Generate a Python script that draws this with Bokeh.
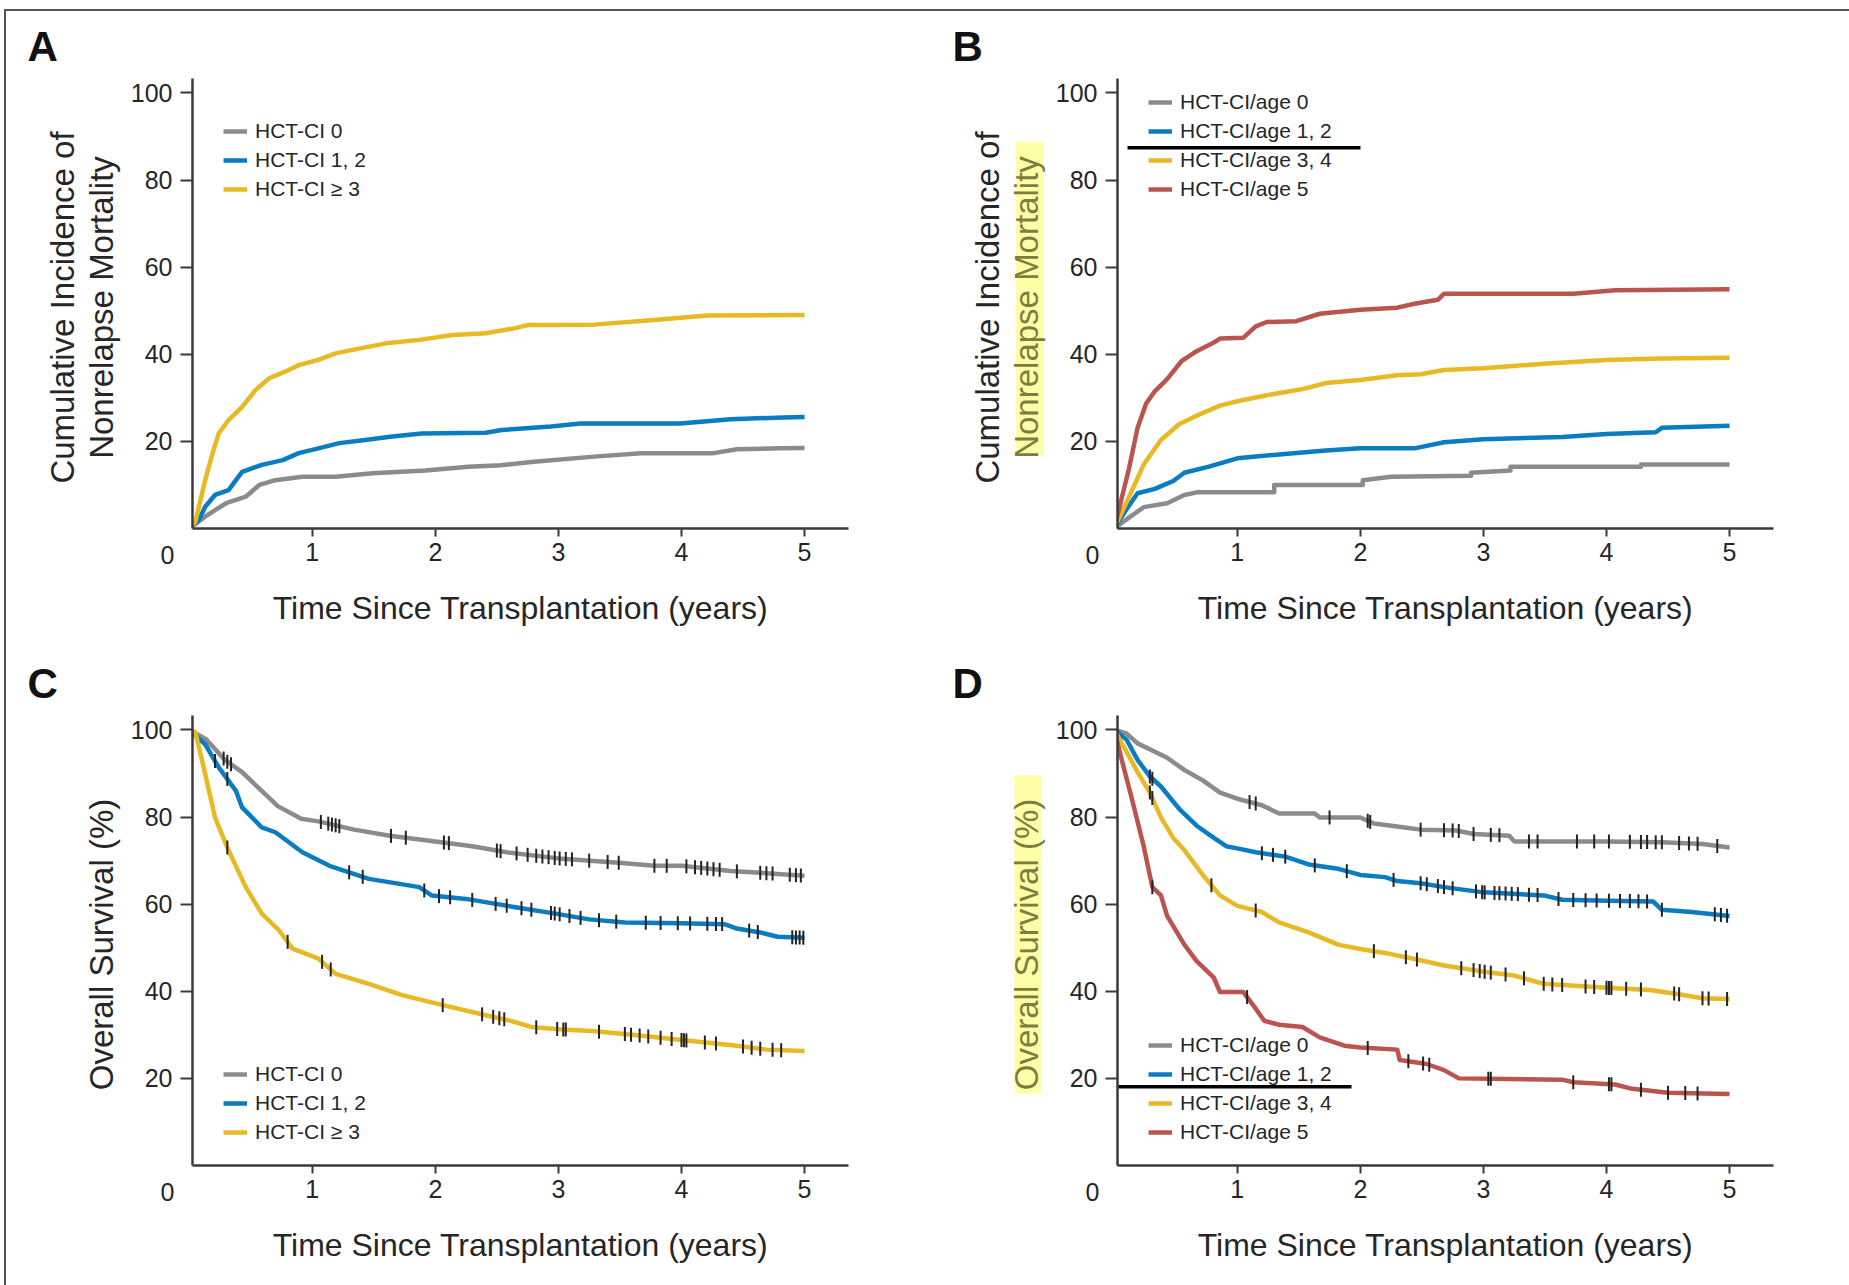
import numpy as np
from bokeh.plotting import figure
from bokeh.models import Label, BoxAnnotation, Legend, LegendItem, FixedTicker, Range1d, Div, Spacer
from bokeh.layouts import column, row
from bokeh.embed import file_html
from bokeh.resources import INLINE

# ---------------- data ----------------
names_cci = ["HCT-CI 0", "HCT-CI 1, 2", "HCT-CI \u2265 3"]
names_age = ["HCT-CI/age 0", "HCT-CI/age 1, 2", "HCT-CI/age 3, 4", "HCT-CI/age 5"]
x_ticks = [1, 2, 3, 4, 5]
y_ticks = [20, 40, 60, 80, 100]

# Panel A: cumulative incidence of NRM by HCT-CI
a_t0 = [0, 0.13, 0.21, 0.3, 0.46, 0.57, 0.7, 0.92, 1.19, 1.49, 1.92, 2.27, 2.53, 2.8, 3.29, 3.67, 4.26, 4.45, 4.8, 5.0]
a_v0 = [0, 2.7, 4.2, 5.8, 7.3, 10.0, 11.1, 11.9, 11.9, 12.7, 13.3, 14.2, 14.5, 15.3, 16.5, 17.3, 17.3, 18.2, 18.4, 18.5]
a_t1 = [0, 0.08, 0.13, 0.21, 0.32, 0.38, 0.43, 0.59, 0.76, 0.89, 1.05, 1.22, 1.43, 1.65, 1.89, 2.41, 2.54, 2.94, 3.18, 3.99, 4.4, 4.83, 5.0]
a_v1 = [0, 2.0, 5.0, 7.7, 8.8, 11.1, 13.0, 14.6, 15.7, 17.3, 18.4, 19.6, 20.3, 21.1, 21.8, 22.0, 22.6, 23.4, 24.1, 24.1, 25.1, 25.5, 25.6]
a_t2 = [0, 0.05, 0.13, 0.19, 0.24, 0.32, 0.43, 0.54, 0.65, 0.78, 0.89, 1.05, 1.19, 1.38, 1.6, 1.87, 2.14, 2.41, 2.65, 2.75, 3.29, 3.75, 4.21, 5.0]
a_v2 = [0, 1.5, 11.1, 17.3, 21.8, 24.9, 27.9, 31.8, 34.5, 36.0, 37.5, 38.7, 40.2, 41.3, 42.5, 43.3, 44.4, 44.8, 46.0, 46.7, 46.8, 47.8, 48.9, 49.0]

# Panel B: cumulative incidence of NRM by HCT-CI/age
b_t0 = [0, 0.12, 0.24, 0.43, 0.57, 0.67, 1.3, 1.3, 2.02, 2.02, 2.25, 2.9, 2.9, 3.22, 3.22, 4.28, 4.28, 5.0]
b_v0 = [0, 2.5, 4.9, 5.8, 7.7, 8.3, 8.3, 10.0, 10.0, 11.1, 11.9, 12.1, 12.8, 13.3, 14.2, 14.2, 14.7, 14.7]
b_t1 = [0, 0.1, 0.19, 0.33, 0.48, 0.57, 0.77, 1.0, 1.34, 1.72, 2.0, 2.44, 2.68, 3.0, 3.64, 4.0, 4.4, 4.45, 5.0]
b_v1 = [0, 4.4, 8.1, 9.1, 10.9, 12.8, 14.2, 16.1, 17.0, 17.9, 18.4, 18.4, 19.8, 20.5, 21.0, 21.7, 22.1, 23.1, 23.6]
b_t2 = [0, 0.12, 0.24, 0.38, 0.53, 0.67, 0.86, 1.0, 1.24, 1.53, 1.72, 2.0, 2.3, 2.49, 2.68, 3.0, 3.49, 4.0, 4.45, 5.0]
b_v2 = [0, 7.2, 14.7, 20.3, 24.0, 25.9, 28.2, 29.2, 30.6, 32.0, 33.4, 34.1, 35.2, 35.4, 36.4, 36.8, 37.8, 38.7, 39.0, 39.2]
b_t3 = [0, 0.12, 0.19, 0.26, 0.33, 0.43, 0.55, 0.67, 0.81, 0.86, 1.05, 1.15, 1.24, 1.48, 1.67, 2.0, 2.3, 2.44, 2.63, 2.68, 3.73, 4.07, 5.0]
b_v3 = [0, 13.7, 23.1, 28.7, 31.5, 34.3, 38.5, 40.7, 42.7, 43.6, 43.8, 46.4, 47.4, 47.6, 49.3, 50.2, 50.7, 51.6, 52.5, 53.9, 53.9, 54.7, 54.9]

# Panel C: overall survival by HCT-CI
c_t0 = [0, 0.14, 0.29, 0.43, 0.57, 0.72, 0.91, 1.05, 1.34, 1.63, 2.0, 2.3, 2.58, 3.0, 3.49, 3.78, 4.0, 4.4, 4.64, 5.0]
c_v0 = [100, 97.8, 93.1, 90.3, 86.5, 82.5, 79.6, 79.0, 77.1, 75.7, 74.4, 73.3, 71.9, 70.5, 69.5, 68.8, 68.8, 67.6, 67.2, 66.5]
c_t1 = [0, 0.13, 0.24, 0.38, 0.43, 0.59, 0.7, 0.92, 1.14, 1.46, 1.87, 1.97, 2.25, 2.65, 3.0, 3.25, 3.54, 4.0, 4.35, 4.45, 4.64, 4.78, 5.0]
c_v1 = [100, 96.7, 91.4, 86.0, 82.2, 77.6, 76.5, 71.9, 68.8, 65.8, 63.9, 62.0, 61.2, 59.3, 57.7, 56.5, 55.8, 55.6, 55.4, 54.4, 53.5, 52.5, 52.3]
c_t2 = [0, 0.05, 0.13, 0.21, 0.32, 0.46, 0.59, 0.73, 0.84, 1.05, 1.19, 1.46, 1.73, 2.06, 2.41, 2.6, 2.78, 3.0, 3.3, 3.64, 4.0, 4.45, 4.69, 5.0]
c_v2 = [100, 99.5, 89.9, 79.9, 72.3, 63.9, 57.8, 54.0, 49.8, 47.5, 44.0, 41.7, 39.1, 36.8, 34.5, 33.3, 31.8, 31.3, 30.8, 29.9, 28.8, 27.5, 26.6, 26.3]
c_cens0 = [0.28, 0.31, 0.34, 1.07, 1.13, 1.16, 1.19, 1.22, 1.64, 1.76, 2.07, 2.11, 2.5, 2.53, 2.66, 2.75, 2.82, 2.87, 2.92, 2.97, 3.01, 3.06, 3.11, 3.25, 3.4, 3.49, 3.78, 3.88, 4.04, 4.11, 4.16, 4.21, 4.26, 4.31, 4.45, 4.64, 4.69, 4.74, 4.88, 4.93, 4.97]
c_cens1 = [0.21, 0.31, 1.3, 1.41, 1.91, 2.03, 2.12, 2.3, 2.49, 2.58, 2.7, 2.78, 2.94, 2.97, 3.01, 3.09, 3.18, 3.33, 3.47, 3.71, 3.83, 3.97, 4.07, 4.21, 4.28, 4.33, 4.55, 4.62, 4.9, 4.93, 4.96, 4.99]
c_cens2 = [0.31, 0.8, 1.08, 1.15, 2.06, 2.38, 2.47, 2.52, 2.56, 2.82, 2.99, 3.04, 3.06, 3.33, 3.54, 3.59, 3.66, 3.73, 3.83, 3.92, 4.0, 4.02, 4.04, 4.19, 4.28, 4.5, 4.57, 4.64, 4.74, 4.81]

# Panel D: overall survival by HCT-CI/age
d_t0 = [0, 0.1, 0.19, 0.33, 0.43, 0.57, 0.72, 0.86, 1.0, 1.2, 1.34, 1.63, 1.67, 2.0, 2.11, 2.3, 2.49, 2.78, 2.92, 3.21, 3.25, 4.0, 4.45, 4.78, 5.0]
d_v0 = [100, 99.2, 96.9, 95.0, 93.6, 90.8, 88.4, 85.6, 84.2, 82.7, 80.8, 80.8, 79.9, 79.9, 78.5, 77.8, 77.1, 76.9, 76.1, 75.7, 74.4, 74.4, 74.2, 73.8, 73.0]
d_t1 = [0, 0.1, 0.19, 0.29, 0.38, 0.53, 0.67, 0.81, 0.91, 1.0, 1.15, 1.39, 1.58, 1.82, 2.0, 2.2, 2.3, 2.49, 2.68, 3.0, 3.49, 3.64, 4.0, 4.38, 4.45, 4.69, 5.0]
d_v1 = [100, 97.8, 93.1, 89.3, 87.0, 81.8, 78.0, 75.2, 73.3, 72.8, 71.9, 70.9, 69.1, 68.1, 66.7, 66.2, 65.3, 64.8, 63.9, 62.7, 62.0, 61.0, 60.8, 60.6, 58.7, 58.2, 57.3]
d_t2 = [0, 0.1, 0.19, 0.29, 0.38, 0.48, 0.57, 0.72, 0.86, 1.0, 1.2, 1.34, 1.58, 1.82, 2.0, 2.2, 2.44, 2.68, 3.0, 3.25, 3.49, 4.0, 4.35, 4.59, 4.78, 5.0]
d_v2 = [100, 95.0, 90.3, 85.6, 79.9, 75.2, 72.4, 66.7, 62.0, 59.6, 58.2, 55.8, 53.5, 50.7, 49.7, 48.8, 47.4, 45.9, 44.5, 43.6, 41.7, 40.8, 40.3, 39.3, 38.4, 38.2]
d_t3 = [0, 0.07, 0.14, 0.24, 0.31, 0.38, 0.43, 0.57, 0.67, 0.81, 0.86, 1.05, 1.15, 1.22, 1.34, 1.53, 1.67, 1.87, 2.0, 2.3, 2.32, 2.54, 2.68, 2.8, 3.64, 3.73, 4.07, 4.21, 4.5, 5.0]
d_v3 = [100, 92.2, 84.6, 73.3, 63.9, 62.0, 57.3, 50.7, 46.9, 43.1, 39.8, 39.8, 36.0, 33.2, 32.3, 31.8, 29.4, 27.5, 27.1, 26.6, 24.2, 23.3, 21.9, 20.0, 19.7, 19.1, 18.6, 17.6, 16.7, 16.4]
d_cens0 = [1.1, 1.15, 1.75, 2.06, 2.08, 2.49, 2.68, 2.75, 2.8, 2.92, 3.06, 3.13, 3.37, 3.44, 3.76, 3.9, 4.02, 4.19, 4.28, 4.33, 4.4, 4.45, 4.59, 4.67, 4.74, 4.9]
d_cens1 = [0.29, 0.31, 1.2, 1.29, 1.39, 1.63, 1.89, 2.27, 2.49, 2.54, 2.63, 2.68, 2.75, 2.94, 2.99, 3.01, 3.09, 3.13, 3.18, 3.23, 3.28, 3.37, 3.44, 3.61, 3.73, 3.83, 3.92, 4.02, 4.11, 4.19, 4.26, 4.33, 4.45, 4.88, 4.93, 4.98]
d_cens2 = [0.29, 0.31, 0.79, 1.15, 2.11, 2.37, 2.46, 2.82, 2.92, 2.97, 3.01, 3.06, 3.18, 3.33, 3.49, 3.56, 3.64, 3.83, 3.9, 4.0, 4.02, 4.04, 4.16, 4.28, 4.55, 4.59, 4.78, 4.83, 4.98]
d_cens3 = [0.31, 1.08, 2.06, 2.39, 2.51, 2.56, 3.04, 3.06, 3.73, 4.02, 4.04, 4.28, 4.5, 4.64, 4.74]

# ---------------- styling / geometry ----------------
FONT = "Liberation Sans"
TXT = "#262626"
AX = "#3a3a3a"
HL = "#ffffa8"
COLORS = ["#8b8b8d", "#0a7cc1", "#e7b924", "#b9544f"]
X0, X1 = 0.027, 5.357
Y0, Y1 = 0.0, 103.3
FW, FH = 656, 450
NB = "\u00a0"


def xd(px):
    """pixels right of the frame's left edge -> data x"""
    return X0 + px * (X1 - X0) / FW


def yd(px):
    """pixels above the frame's bottom edge -> data y"""
    return Y0 + px * (Y1 - Y0) / FH


def make_panel(letter, width, height, left_b, top_b, curves, censors, names, ylines,
               legend_y, underline=None, highlight=None):
    p = figure(width=width, height=height, x_range=Range1d(X0, X1), y_range=Range1d(Y0, Y1),
               output_backend="svg", toolbar_location=None,
               min_border_left=left_b, min_border_right=width - left_b - FW,
               min_border_top=top_b, min_border_bottom=height - top_b - FH)
    p.background_fill_color = "white"
    p.border_fill_color = "white"
    p.outline_line_color = None
    p.grid.visible = False

    p.xaxis.ticker = FixedTicker(ticks=x_ticks)
    p.yaxis.ticker = FixedTicker(ticks=y_ticks)
    for ax in (p.xaxis[0], p.yaxis[0]):
        ax.axis_line_color = AX
        ax.axis_line_width = 2.5
        ax.major_tick_line_color = AX
        ax.major_tick_line_width = 2
        ax.major_tick_in = 0
        ax.minor_tick_line_color = None
        ax.major_label_text_font = FONT
        ax.major_label_text_font_size = "25px"
        ax.major_label_text_color = TXT
    p.xaxis.major_tick_out = 8
    p.xaxis.major_label_standoff = 6
    p.yaxis.major_tick_out = 12
    p.yaxis.major_label_standoff = 8

    items = []
    for i, (t, v) in enumerate(curves):
        r = p.line(t, v, line_color=COLORS[i], line_width=4.5, line_join="round")
        items.append(LegendItem(label=names[i], renderers=[r]))
    if censors:
        for i, ct in enumerate(censors):
            t, v = curves[i]
            cy = np.interp(ct, t, v)
            p.scatter(ct, cy, marker="dash", angle=np.pi / 2, size=14,
                      line_color="#222222", line_width=2)

    leg = Legend(items=items, location=(31, legend_y), padding=0, margin=0,
                 spacing=5, glyph_width=24, glyph_height=24, label_height=24,
                 label_standoff=8, border_line_alpha=0, background_fill_alpha=0,
                 label_text_font=FONT, label_text_font_size="21px", label_text_color=TXT)
    p.add_layout(leg)

    # panel letter
    p.add_layout(Label(x=xd(-165), y=yd(482), text=letter, text_font=FONT,
                       text_font_size="42px", text_font_style="bold", text_color="#111111",
                       text_align="left", text_baseline="middle"), "above")
    # corner zero
    p.add_layout(Label(x=xd(-25), y=yd(-26.5), text="0", text_font=FONT,
                       text_font_size="25px", text_color=TXT,
                       text_align="center", text_baseline="middle"), "left")
    # x title
    p.add_layout(Label(x=xd(FW / 2), y=yd(-79.5), text="Time Since Transplantation (years)",
                       text_font=FONT, text_font_size="32px", text_color=TXT,
                       text_align="center", text_baseline="middle"), "below")
    # highlighter mark behind the last y-title line (its own text painted in the mark's colour)
    if highlight is not None:
        txt, hx, hy, k = highlight
        p.add_layout(Label(x=xd(hx), y=yd(hy), text=NB * k + txt + NB * k, angle=np.pi / 2,
                           text_font=FONT, text_font_size="24px", text_color=HL,
                           background_fill_color=HL, background_fill_alpha=1.0,
                           text_align="center", text_baseline="middle"), "left")
    # y title lines
    for txt, cx, hl in ylines:
        p.add_layout(Label(x=xd(cx), y=yd(221), text=txt, angle=np.pi / 2,
                           text_font=FONT, text_font_size="33px",
                           text_color="#7d7d3e" if hl else TXT,
                           text_align="center", text_baseline="middle"), "left")
    if underline is not None:
        l, r, yc = underline
        p.add_layout(BoxAnnotation(left=xd(l), right=xd(r), bottom=yd(yc - 1.7), top=yd(yc + 1.7),
                                   fill_color="#000000", fill_alpha=1, line_alpha=0))
    return p


ylab_nrm = [("Cumulative Incidence of", -130, False), ("Nonrelapse Mortality", -91, False)]
ylab_nrm_hl = [("Cumulative Incidence of", -130, False), ("Nonrelapse Mortality", -91, True)]
ylab_os = [("Overall Survival (%)", -91, False)]
ylab_os_hl = [("Overall Survival (%)", -91, True)]

# page offsets: the outer frame line occupies the first 11 px (top) / 6 px (left)
pA = make_panel("A", 919, 631, 186, 67,
                [(a_t0, a_v0), (a_t1, a_v1), (a_t2, a_v2)], None, names_cci,
                ylab_nrm, 327)
pB = make_panel("B", 924, 631, 192, 67,
                [(b_t0, b_v0), (b_t1, b_v1), (b_t2, b_v2), (b_t3, b_v3)], None, names_age,
                ylab_nrm_hl, 327, underline=(10, 243, 380.7),
                highlight=("Nonrelapse Mortality", -88, 230, 7))
pC = make_panel("C", 919, 643, 186, 73,
                [(c_t0, c_v0), (c_t1, c_v1), (c_t2, c_v2)], [c_cens0, c_cens1, c_cens2], names_cci,
                ylab_os, 21)
pD = make_panel("D", 924, 643, 192, 73,
                [(d_t0, d_v0), (d_t1, d_v1), (d_t2, d_v2), (d_t3, d_v3)],
                [d_cens0, d_cens1, d_cens2, d_cens3], names_age,
                ylab_os_hl, 21, underline=(1, 234, 78.7),
                highlight=("Overall Survival (%)", -89.5, 231, 8))

grid = column(row(pA, pB), row(pC, pD))
line_top = Div(width=1845, height=2, margin=0, styles={"background-color": "#555555"})
line_left = Div(width=2, height=1274, margin=0, styles={"background-color": "#555555"})
layout = column(Spacer(height=9, margin=0),
                row(Spacer(width=4, margin=0), line_top),
                row(Spacer(width=4, margin=0), line_left, grid))
open("out.html", "w").write(file_html(layout, INLINE))
